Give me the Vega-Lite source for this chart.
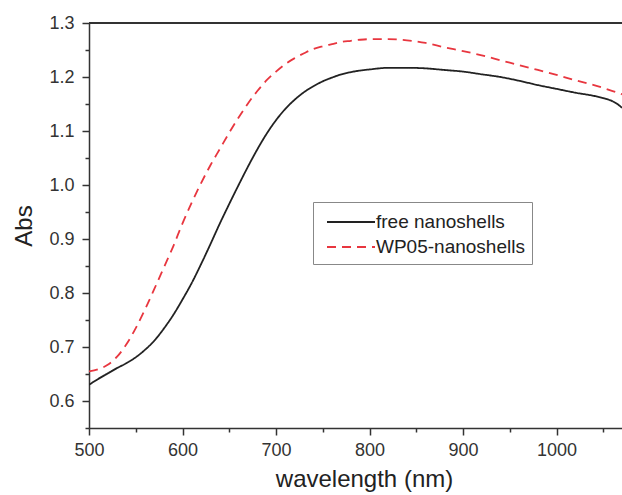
{
  "$schema": "https://vega.github.io/schema/vega-lite/v6.json",
  "width": 533,
  "height": 405,
  "autosize": {"type": "none"},
  "padding": {"left": 89, "top": 23, "right": 0, "bottom": 67},
  "background": "white",
  "config": {
    "font": "Liberation Sans",
    "view": {"stroke": null},
    "axis": {
      "grid": false,
      "domainColor": "#333",
      "domainWidth": 1.5,
      "tickColor": "#333",
      "tickWidth": 1.5,
      "labelColor": "#333",
      "labelFontSize": 18,
      "titleColor": "#222",
      "titleFontSize": 24,
      "titleFontWeight": "normal"
    }
  },
  "data": {"values": [
      {"wl": 500, "abs": 0.630, "s": "free nanoshells"},
      {"wl": 510, "abs": 0.641, "s": "free nanoshells"},
      {"wl": 520, "abs": 0.651, "s": "free nanoshells"},
      {"wl": 530, "abs": 0.661, "s": "free nanoshells"},
      {"wl": 540, "abs": 0.670, "s": "free nanoshells"},
      {"wl": 550, "abs": 0.681, "s": "free nanoshells"},
      {"wl": 560, "abs": 0.695, "s": "free nanoshells"},
      {"wl": 570, "abs": 0.712, "s": "free nanoshells"},
      {"wl": 580, "abs": 0.734, "s": "free nanoshells"},
      {"wl": 590, "abs": 0.759, "s": "free nanoshells"},
      {"wl": 600, "abs": 0.788, "s": "free nanoshells"},
      {"wl": 610, "abs": 0.819, "s": "free nanoshells"},
      {"wl": 620, "abs": 0.854, "s": "free nanoshells"},
      {"wl": 630, "abs": 0.891, "s": "free nanoshells"},
      {"wl": 640, "abs": 0.929, "s": "free nanoshells"},
      {"wl": 650, "abs": 0.965, "s": "free nanoshells"},
      {"wl": 660, "abs": 1.000, "s": "free nanoshells"},
      {"wl": 670, "abs": 1.034, "s": "free nanoshells"},
      {"wl": 680, "abs": 1.066, "s": "free nanoshells"},
      {"wl": 690, "abs": 1.095, "s": "free nanoshells"},
      {"wl": 700, "abs": 1.120, "s": "free nanoshells"},
      {"wl": 710, "abs": 1.141, "s": "free nanoshells"},
      {"wl": 720, "abs": 1.158, "s": "free nanoshells"},
      {"wl": 730, "abs": 1.172, "s": "free nanoshells"},
      {"wl": 740, "abs": 1.183, "s": "free nanoshells"},
      {"wl": 750, "abs": 1.192, "s": "free nanoshells"},
      {"wl": 760, "abs": 1.199, "s": "free nanoshells"},
      {"wl": 770, "abs": 1.205, "s": "free nanoshells"},
      {"wl": 780, "abs": 1.209, "s": "free nanoshells"},
      {"wl": 790, "abs": 1.212, "s": "free nanoshells"},
      {"wl": 800, "abs": 1.214, "s": "free nanoshells"},
      {"wl": 820, "abs": 1.217, "s": "free nanoshells"},
      {"wl": 840, "abs": 1.217, "s": "free nanoshells"},
      {"wl": 860, "abs": 1.216, "s": "free nanoshells"},
      {"wl": 880, "abs": 1.213, "s": "free nanoshells"},
      {"wl": 900, "abs": 1.210, "s": "free nanoshells"},
      {"wl": 920, "abs": 1.205, "s": "free nanoshells"},
      {"wl": 940, "abs": 1.200, "s": "free nanoshells"},
      {"wl": 960, "abs": 1.193, "s": "free nanoshells"},
      {"wl": 980, "abs": 1.185, "s": "free nanoshells"},
      {"wl": 1000, "abs": 1.178, "s": "free nanoshells"},
      {"wl": 1020, "abs": 1.171, "s": "free nanoshells"},
      {"wl": 1040, "abs": 1.165, "s": "free nanoshells"},
      {"wl": 1050, "abs": 1.161, "s": "free nanoshells"},
      {"wl": 1060, "abs": 1.155, "s": "free nanoshells"},
      {"wl": 1065, "abs": 1.150, "s": "free nanoshells"},
      {"wl": 1070, "abs": 1.143, "s": "free nanoshells"},
      {"wl": 500, "abs": 0.655, "s": "WP05-nanoshells"},
      {"wl": 510, "abs": 0.659, "s": "WP05-nanoshells"},
      {"wl": 520, "abs": 0.667, "s": "WP05-nanoshells"},
      {"wl": 530, "abs": 0.682, "s": "WP05-nanoshells"},
      {"wl": 540, "abs": 0.705, "s": "WP05-nanoshells"},
      {"wl": 550, "abs": 0.735, "s": "WP05-nanoshells"},
      {"wl": 560, "abs": 0.770, "s": "WP05-nanoshells"},
      {"wl": 570, "abs": 0.808, "s": "WP05-nanoshells"},
      {"wl": 580, "abs": 0.847, "s": "WP05-nanoshells"},
      {"wl": 590, "abs": 0.886, "s": "WP05-nanoshells"},
      {"wl": 600, "abs": 0.929, "s": "WP05-nanoshells"},
      {"wl": 610, "abs": 0.968, "s": "WP05-nanoshells"},
      {"wl": 620, "abs": 1.004, "s": "WP05-nanoshells"},
      {"wl": 630, "abs": 1.037, "s": "WP05-nanoshells"},
      {"wl": 640, "abs": 1.067, "s": "WP05-nanoshells"},
      {"wl": 650, "abs": 1.097, "s": "WP05-nanoshells"},
      {"wl": 660, "abs": 1.125, "s": "WP05-nanoshells"},
      {"wl": 670, "abs": 1.151, "s": "WP05-nanoshells"},
      {"wl": 680, "abs": 1.174, "s": "WP05-nanoshells"},
      {"wl": 690, "abs": 1.194, "s": "WP05-nanoshells"},
      {"wl": 700, "abs": 1.210, "s": "WP05-nanoshells"},
      {"wl": 710, "abs": 1.224, "s": "WP05-nanoshells"},
      {"wl": 720, "abs": 1.235, "s": "WP05-nanoshells"},
      {"wl": 730, "abs": 1.244, "s": "WP05-nanoshells"},
      {"wl": 740, "abs": 1.252, "s": "WP05-nanoshells"},
      {"wl": 750, "abs": 1.257, "s": "WP05-nanoshells"},
      {"wl": 760, "abs": 1.261, "s": "WP05-nanoshells"},
      {"wl": 770, "abs": 1.265, "s": "WP05-nanoshells"},
      {"wl": 780, "abs": 1.267, "s": "WP05-nanoshells"},
      {"wl": 790, "abs": 1.269, "s": "WP05-nanoshells"},
      {"wl": 800, "abs": 1.270, "s": "WP05-nanoshells"},
      {"wl": 820, "abs": 1.270, "s": "WP05-nanoshells"},
      {"wl": 840, "abs": 1.268, "s": "WP05-nanoshells"},
      {"wl": 860, "abs": 1.263, "s": "WP05-nanoshells"},
      {"wl": 880, "abs": 1.255, "s": "WP05-nanoshells"},
      {"wl": 900, "abs": 1.248, "s": "WP05-nanoshells"},
      {"wl": 920, "abs": 1.240, "s": "WP05-nanoshells"},
      {"wl": 940, "abs": 1.231, "s": "WP05-nanoshells"},
      {"wl": 960, "abs": 1.222, "s": "WP05-nanoshells"},
      {"wl": 980, "abs": 1.213, "s": "WP05-nanoshells"},
      {"wl": 1000, "abs": 1.204, "s": "WP05-nanoshells"},
      {"wl": 1020, "abs": 1.194, "s": "WP05-nanoshells"},
      {"wl": 1040, "abs": 1.185, "s": "WP05-nanoshells"},
      {"wl": 1060, "abs": 1.174, "s": "WP05-nanoshells"},
      {"wl": 1070, "abs": 1.168, "s": "WP05-nanoshells"}
  ]},
  "layer": [
    {
      "mark": {"type": "line", "strokeWidth": 1.8, "interpolate": "monotone", "clip": true},
      "encoding": {
        "x": {
          "field": "wl",
          "type": "quantitative",
          "scale": {"domain": [500, 1070], "nice": false, "zero": false},
          "axis": {
            "title": "wavelength (nm)",
            "values": [500, 550, 600, 650, 700, 750, 800, 850, 900, 950, 1000, 1050],
            "labelExpr": "datum.value % 100 === 0 ? datum.label : ''",
            "format": "d",
            "tickSize": {"condition": {"test": "datum.value % 100 === 0", "value": 7}, "value": 4},
            "labelPadding": 6,
            "titlePadding": 8,
            "titleX": 275,
            "labelFlush": false,
            "labelOverlap": false
          }
        },
        "y": {
          "field": "abs",
          "type": "quantitative",
          "scale": {"domain": [0.55, 1.3], "nice": false, "zero": false},
          "axis": {
            "title": "Abs",
            "values": [0.55, 0.6, 0.65, 0.7, 0.75, 0.8, 0.85, 0.9, 0.95, 1.0, 1.05, 1.1, 1.15, 1.2, 1.25, 1.3],
            "format": ".1f",
            "labelExpr": "(datum.value * 20) % 2 < 0.5 || (datum.value * 20) % 2 > 1.5 ? datum.label : ''",
            "tickSize": {"condition": {"test": "(datum.value * 20) % 2 < 0.5 || (datum.value * 20) % 2 > 1.5", "value": 7}, "value": 4},
            "labelPadding": 8,
            "titlePadding": 12,
            "labelFlush": false,
            "labelOverlap": false
          }
        },
        "color": {
          "field": "s",
          "type": "nominal",
          "sort": ["free nanoshells", "WP05-nanoshells"],
          "scale": {"domain": ["free nanoshells", "WP05-nanoshells"], "range": ["#222222", "#e8363f"]},
          "legend": {
            "title": null,
            "orient": "none",
            "legendX": 224,
            "legendY": 179,
            "direction": "vertical",
            "strokeColor": "#888",
            "fillColor": "white",
            "padding": 7,
            "labelFontSize": 19,
            "labelColor": "#222",
            "labelOffset": 30,
            "rowPadding": 2,
            "symbolType": "M-0.5,0H3.5",
            "symbolSize": 576,
            "symbolStrokeWidth": 1.8
          }
        },
        "strokeDash": {
          "field": "s",
          "type": "nominal",
          "sort": ["free nanoshells", "WP05-nanoshells"],
          "scale": {"domain": ["free nanoshells", "WP05-nanoshells"], "range": [[1, 0], [9, 6]]},
          "legend": null
        }
      }
    },
    {
      "mark": {"type": "rule", "color": "#333", "strokeWidth": 1.5},
      "encoding": {
        "y": {
          "datum": 1.3,
          "type": "quantitative",
          "scale": {"domain": [0.55, 1.3], "nice": false, "zero": false},
          "axis": {
            "title": "Abs",
            "values": [0.55, 0.6, 0.65, 0.7, 0.75, 0.8, 0.85, 0.9, 0.95, 1.0, 1.05, 1.1, 1.15, 1.2, 1.25, 1.3],
            "format": ".1f",
            "labelExpr": "(datum.value * 20) % 2 < 0.5 || (datum.value * 20) % 2 > 1.5 ? datum.label : ''",
            "tickSize": {"condition": {"test": "(datum.value * 20) % 2 < 0.5 || (datum.value * 20) % 2 > 1.5", "value": 7}, "value": 4},
            "labelPadding": 8,
            "titlePadding": 12,
            "labelFlush": false,
            "labelOverlap": false
          }
        }
      }
    }
  ]
}
